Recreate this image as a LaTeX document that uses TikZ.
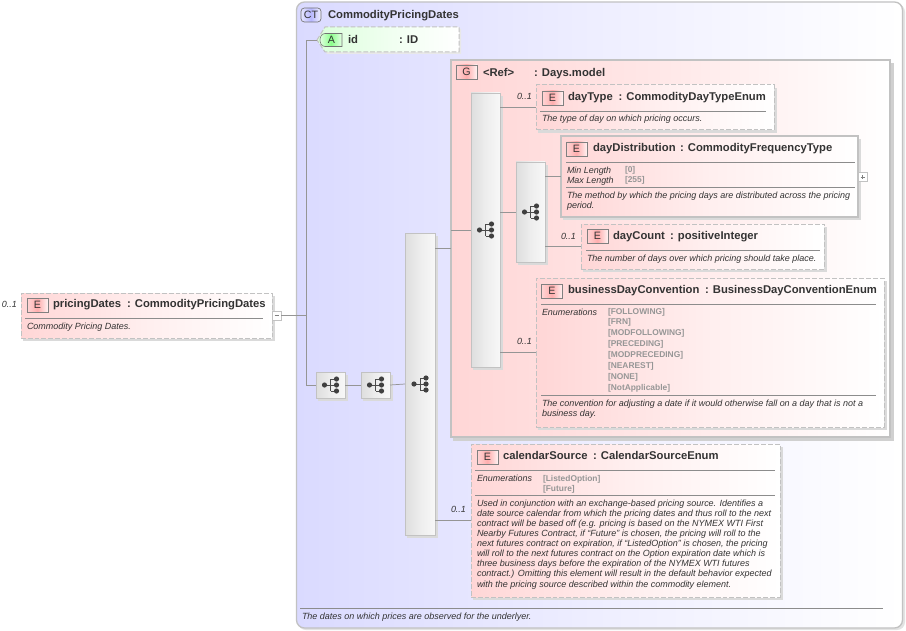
\documentclass[tikz,border=0pt]{standalone}
\usepackage{fontspec}
\setmainfont{Liberation Sans}
\usetikzlibrary{calc}
\definecolor{txtc}{HTML}{333333}
\definecolor{bord}{HTML}{C2C2C2}
\definecolor{sepc}{HTML}{8C8C8C}
\definecolor{linec}{HTML}{959595}
\definecolor{enumc}{HTML}{969696}
\definecolor{pinkc}{HTML}{FFD6D6}
\definecolor{bluec}{HTML}{DADAFF}
\definecolor{shadc}{HTML}{D0D0D0}
\tikzset{
  x=0.75pt,y=-0.75pt,
  every node/.style={inner sep=0pt,outer sep=0pt,text=txtc},
  ttl/.style={anchor=base west,yshift=-0.7pt,font=\fontsize{8.45}{10}\selectfont\bfseries},
  dsc/.style={anchor=base west,font=\fontsize{6.74}{7.6}\selectfont\itshape},
  occ/.style={anchor=base west,font=\fontsize{6.7}{7.6}\selectfont\itshape},
  enm/.style={anchor=base west,font=\fontsize{6.3}{7}\selectfont\bfseries,text=enumc},
  sep/.style={draw=sepc,line width=0.55pt},
  conn/.style={draw=linec,line width=0.55pt},
  elemdash/.style={draw=bord,line width=0.75pt,dash pattern=on 3.6pt off 1.5pt,left color=pinkc,right color=white,middle color=pinkc!40!white},
  elemsolid/.style={draw=bord,line width=0.85pt,left color=pinkc,right color=white,middle color=pinkc!40!white},
  seqbox/.style={draw=bord,line width=0.7pt,left color=black!13,right color=black!3,middle color=black!7},
  badge/.style={draw=black!50,line width=0.45pt,font=\fontsize{8}{9}\selectfont,left color=pinkc,right color=red!5!white,middle color=red!32!white,text=txtc},
  colbox/.style={draw=bord,line width=0.5pt,fill=white},
  seqicon/.pic={
    \draw[black!70,line width=0.55pt] (-6,0)--(6,0) (0,-6)--(0,6) (0,-6)--(6,-6) (0,6)--(6,6);
    \fill[black!75] (-6,0) circle (2.6) (6,0) circle (2.6) (6,-6) circle (2.6) (6,6) circle (2.6);
  }
}
\newcommand{\bx}[6]{\node[#2,minimum width={(#5-#3)*0.75pt},minimum height={(#6-#4)*0.75pt}] (#1) at ({(#3+#5)/2},{(#4+#6)/2}) {};}
\newcommand{\sbx}[6]{\fill[shadc!80] (#3+2,#4+3) rectangle (#5+3,#6+3);\bx{#1}{#2}{#3}{#4}{#5}{#6}}
\newcommand{\bdg}[4][E]{\node[badge,minimum width={21*0.75pt},minimum height={14*0.75pt}] (#2) at (#3+10.5,#4+7) {#1};}
\newcommand{\tx}[5]{\node[#2] (#1) at (#3,#4) {#5};}
\newcommand{\hsep}[3]{\draw[sep] (#1,#3) -- (#2,#3);}
\begin{document}
\begin{tikzpicture}
\useasboundingbox (0,0) rectangle (906,631);
\fill[white] (0,0) rectangle (906,631);
% outer complex type
\fill[shadc!60,rounded corners=6pt] (298,4) rectangle (905,630);
\draw[draw=bord,line width=1pt,rounded corners=6pt,left color=bluec,right color=white,middle color=bluec!45!white] (296.5,2) rectangle (902.5,628);
\node[draw=black!55,line width=0.5pt,rounded corners=2.5pt,left color=bluec!70!white,right color=bluec!40!white,middle color=blue!28!white,minimum width={20*0.75pt},minimum height={14*0.75pt},font=\fontsize{8}{9}\selectfont] (ctbadge) at (311,15) {CT};
\tx{cttitle}{ttl}{328}{17.5}{CommodityPricingDates}
% footer
\hsep{300}{883}{608}
\tx{ctdesc}{dsc}{302}{619}{The dates on which prices are observed for the underlyer.}
% attribute
\fill[shadc!50] (319,42)--(327,29)--(461,29)--(461,54)--(327,54)--cycle;
\draw[draw=bord,line width=0.75pt,dash pattern=on 3.6pt off 1.5pt,left color=green!14!white,right color=white,middle color=green!6!white] (317,40)--(325,27)--(459,27)--(459,52)--(325,52)--cycle;
\coordinate (idpt) at (317,40);
\draw[draw=black!55,line width=0.45pt,left color=green!12!white,right color=green!10!white,middle color=green!45!white] (342,33.5) -- (325,33.5) .. controls (321,33.5) and (320,38) .. (320,40) .. controls (320,42) and (321,46.5) .. (325,46.5) -- (342,46.5) -- cycle;
\node[font=\fontsize{8}{9}\selectfont] (abadge) at (331.5,40.3) {A};
\tx{idname}{ttl}{348}{42.5}{id}
\tx{idtype}{ttl}{399}{42.5}{: ID}
% group
\fill[shadc] (453,63) rectangle (894,440.5);
\bx{grp}{draw=bord,line width=0.9pt,left color=pinkc,right color=white,middle color=pinkc!55!white}{451}{60}{890}{437}
\bdg[G]{gbadge}{456}{65}
\tx{gname}{ttl}{483}{75.5}{<Ref>}
\tx{gtype}{ttl}{534}{75.5}{: Days.model}
% sequence boxes
\sbx{seqa}{seqbox}{316}{372}{345}{398}
\sbx{seqb}{seqbox}{361}{372}{390}{398}
\sbx{seqc}{seqbox}{405}{233}{435}{535}
\sbx{seqd}{seqbox}{471}{93}{500}{367}
\sbx{seqe}{seqbox}{516}{162}{545}{262}
\pic at (seqa.center) {seqicon};
\pic at (seqb.center) {seqicon};
\pic at (seqc.center) {seqicon};
\pic at (seqd.center) {seqicon};
\pic at (seqe.center) {seqicon};
% pricingDates
\sbx{pd}{elemdash}{21}{293}{272}{338}
\tx{pdocc}{occ}{2}{307}{0..1}
\bdg{pdbadge}{27}{298}
\tx{pdname}{ttl}{53}{307}{pricingDates}
\tx{pdtype}{ttl}{127}{307}{: CommodityPricingDates}
\hsep{25}{263}{318.5}
\tx{pddesc}{dsc}{27}{329}{Commodity Pricing Dates.}
\node[colbox,minimum width={9*0.75pt},minimum height={9*0.75pt}] (pdcol) at (276.5,315.5) {};
\draw[black!50,line width=0.4pt] (274.5,315.5)--(278.5,315.5);
% dayType
\sbx{dt}{elemdash}{536}{85}{774}{130}
\tx{dtocc}{occ}{517}{100}{0..1}
\bdg{dtbadge}{542}{91}
\tx{dtname}{ttl}{568}{100}{dayType}
\tx{dttype}{ttl}{618.5}{100}{: CommodityDayTypeEnum}
\hsep{540}{766}{111.5}
\tx{dtdesc}{dsc}{542}{122}{The type of day on which pricing occurs.}
% dayDistribution
\sbx{dd}{elemsolid}{561}{136}{858}{217}
\bdg{ddbadge}{566}{142}
\tx{ddname}{ttl}{593}{151}{dayDistribution}
\tx{ddtype}{ttl}{680}{151}{: CommodityFrequencyType}
\hsep{566}{855}{162.5}
\tx{ddmin}{occ}{567}{173}{Min Length}
\tx{ddmax}{occ}{567}{183}{Max Length}
\tx{ddminv}{enm}{625}{172.5}{[0]}
\tx{ddmaxv}{enm}{625}{182.5}{[255]}
\hsep{566}{855}{187.5}
\tx{dddesc}{dsc}{567}{198}{\vtop{\hbox{The method by which the pricing days are distributed across the pricing}\hbox{period.}}}
\node[colbox,minimum width={9*0.75pt},minimum height={9*0.75pt}] (ddcol) at (862.5,177) {};
\draw[black!50,line width=0.4pt] (860.5,177)--(864.5,177) (862.5,175)--(862.5,179);
% dayCount
\sbx{dc}{elemdash}{581}{224}{824}{269}
\tx{dcocc}{occ}{561}{239}{0..1}
\bdg{dcbadge}{587}{229}
\tx{dcname}{ttl}{613}{239}{dayCount}
\tx{dctype}{ttl}{670}{239}{: positiveInteger}
\hsep{586}{820}{250.5}
\tx{dcdesc}{dsc}{587}{261}{The number of days over which pricing should take place.}
% businessDayConvention
\sbx{bd}{elemdash}{536}{278}{884}{427}
\tx{bdocc}{occ}{517}{344}{0..1}
\bdg{bdbadge}{541.5}{284}
\tx{bdname}{ttl}{568}{293}{businessDayConvention}
\tx{bdtype}{ttl}{705}{293}{: BusinessDayConventionEnum}
\hsep{541}{876}{304.5}
\tx{bdenum}{occ}{542}{315}{Enumerations}
\tx{bdv1}{enm}{608}{314}{[FOLLOWING]}
\tx{bdv2}{enm}{608}{324.5}{[FRN]}
\tx{bdv3}{enm}{608}{335}{[MODFOLLOWING]}
\tx{bdv4}{enm}{608}{346}{[PRECEDING]}
\tx{bdv5}{enm}{608}{357}{[MODPRECEDING]}
\tx{bdv6}{enm}{608}{368}{[NEAREST]}
\tx{bdv7}{enm}{608}{379}{[NONE]}
\tx{bdv8}{enm}{608}{390}{[NotApplicable]}
\hsep{541}{876}{395.5}
\tx{bddesc}{dsc}{542}{406}{\vtop{\hbox{The convention for adjusting a date if it would otherwise fall on a day that is not a}\hbox{business day.}}}
% calendarSource
\sbx{cs}{elemdash}{471}{444}{780}{597}
\tx{csocc}{occ}{451}{512}{0..1}
\bdg{csbadge}{477}{450}
\tx{csname}{ttl}{503}{459}{calendarSource}
\tx{cstype}{ttl}{593}{459}{: CalendarSourceEnum}
\hsep{475}{775}{470.5}
\tx{csenum}{occ}{477}{481}{Enumerations}
\tx{csv1}{enm}{543}{481}{[ListedOption]}
\tx{csv2}{enm}{543}{491}{[Future]}
\hsep{475}{775}{495.5}
\tx{csdesc}{dsc}{477}{506}{\vtop{\hbox{Used in conjunction with an exchange-based pricing source. Identifies a}\hbox{date source calendar from which the pricing dates and thus roll to the next}\hbox{contract will be based off (e.g. pricing is based on the NYMEX WTI First}\hbox{Nearby Futures Contract, if ``Future'' is chosen, the pricing will roll to the}\hbox{next futures contract on expiration, if ``ListedOption'' is chosen, the pricing}\hbox{will roll to the next futures contract on the Option expiration date which is}\hbox{three business days before the expiration of the NYMEX WTI futures}\hbox{contract.) Omitting this element will result in the default behavior expected}\hbox{with the pricing source described within the commodity element.}}}
% connectors
\coordinate (trunk) at (306,315.5);
\draw[conn] (pdcol.east) -- (trunk);
\draw[conn] (idpt) -- (trunk |- idpt) -- (trunk |- seqa.west) -- (seqa.west);
\draw[conn] (seqa.east) -- (seqb.west);
\draw[conn] (seqb.east) -- (seqc.west);
\draw[conn] (seqc.east |- grp.west) -- (grp.west);
\draw[conn] (grp.west |- seqd.west) -- (seqd.west);
\draw[conn] (seqc.east |- cs.west) -- (cs.west);
\draw[conn] (seqd.east |- dt.west) -- (dt.west);
\draw[conn] (seqd.east |- seqe.west) -- (seqe.west);
\draw[conn] (seqd.east |- bd.west) -- (bd.west);
\draw[conn] (seqe.east |- dd.west) -- (dd.west);
\draw[conn] (seqe.east |- dc.west) -- (dc.west);
\end{tikzpicture}
\end{document}
